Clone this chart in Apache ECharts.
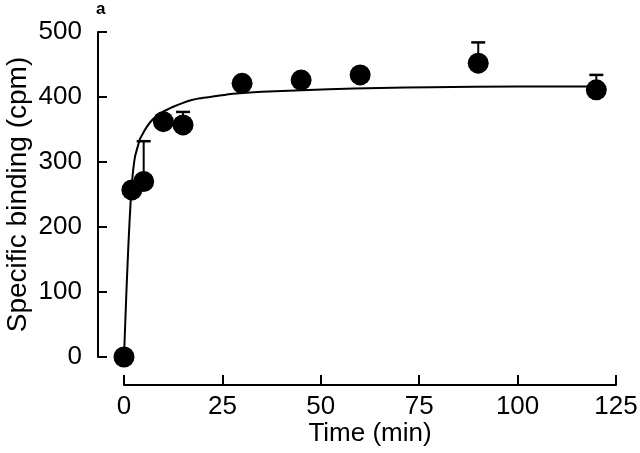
<!DOCTYPE html>
<html>
<head>
<meta charset="utf-8">
<script src="https://cdn.jsdelivr.net/npm/echarts@6/dist/echarts.min.js"></script>
<style>
  html, body { margin: 0; padding: 0; background: #fff; }
  #chart { width: 640px; height: 453px; }
</style>
</head>
<body>
<div id="chart"></div>
<script>
// measured points (time in min, specific binding in cpm)
var timeMin = [0, 2, 5, 10, 15, 30, 45, 60, 90, 120]
var binding = [0, 257, 270, 362, 357, 421, 426, 434, 452, 411]

// upper error bars
var errTime = [5, 15, 90, 120]
var errTop = [332, 377, 484, 434]

// fitted curve
var curveTime = [0, 0.6, 1.1, 1.7, 2.2, 2.8, 3.5, 4.1, 5, 5.8, 6.5, 7.4, 9, 10.8, 12.5, 15, 17, 19.3, 23, 27.7, 35, 52, 65, 78, 100, 120]
var curveVal = [0, 98, 170, 241, 280, 308, 324, 336, 346, 354, 360, 366, 374, 380, 385, 391, 395, 398, 401, 405, 408, 412, 414, 415, 416, 416]

var xTicks = [0, 25, 50, 75, 100, 125]
var yTicks = [0, 100, 200, 300, 400, 500]

var font = 'Liberation Sans, Arial, sans-serif'

var chart = echarts.init(document.getElementById('chart'))

var points = timeMin.map(function (t, i) { return [t, binding[i]] })
var curve = curveTime.map(function (t, i) { return [t, curveVal[i]] })
var errData = errTime.map(function (t, i) {
  var idx = timeMin.indexOf(t)
  return [t, binding[idx], errTop[i]]
})

var option = {
  animation: false,
  backgroundColor: '#fff',
  title: {
    text: 'a',
    left: 91,
    top: -4,
    textStyle: { fontFamily: font, fontSize: 17, fontWeight: 'bold', color: '#000' }
  },
  grid: { left: 124, right: 24, top: 32, bottom: 96, containLabel: false, outerBoundsMode: 'none' },
  xAxis: {
    type: 'value',
    min: xTicks[0],
    max: xTicks[xTicks.length - 1],
    interval: 25,
    offset: 28,
    name: 'Time (min)',
    nameLocation: 'middle',
    nameGap: 36,
    nameMoveOverlap: false,
    nameTextStyle: { fontFamily: font, fontSize: 26, color: '#000' },
    axisLine: { onZero: false, lineStyle: { color: '#000', width: 2 } },
    axisTick: { inside: true, length: 10, lineStyle: { color: '#000', width: 2 } },
    axisLabel: { fontFamily: font, fontSize: 26, color: '#000', margin: 9 },
    splitLine: { show: false }
  },
  yAxis: {
    type: 'value',
    min: yTicks[0],
    max: yTicks[yTicks.length - 1],
    interval: 100,
    offset: 26,
    name: 'Specific binding (cpm)',
    nameLocation: 'middle',
    nameGap: 66,
    nameMoveOverlap: false,
    nameTextStyle: { fontFamily: font, fontSize: 28, color: '#000' },
    axisLine: { show: true, onZero: false, lineStyle: { color: '#000', width: 2 } },
    axisTick: { show: true, inside: true, length: 9, lineStyle: { color: '#000', width: 2 } },
    axisLabel: { fontFamily: font, fontSize: 26, color: '#000', margin: 16 },
    splitLine: { show: false }
  },
  series: [
    {
      name: 'fit',
      type: 'line',
      data: curve,
      showSymbol: false,
      smooth: 0.2,
      lineStyle: { color: '#000', width: 2 },
      z: 1
    },
    {
      name: 'err',
      type: 'custom',
      data: errData,
      renderItem: function (params, api) {
        var base = api.coord([api.value(0), api.value(1)])
        var top = api.coord([api.value(0), api.value(2)])
        var half = 7
        return {
          type: 'group',
          children: [
            { type: 'line', shape: { x1: base[0], y1: base[1], x2: top[0], y2: top[1] },
              style: { stroke: '#000', lineWidth: 2 } },
            { type: 'line', shape: { x1: top[0] - half, y1: top[1], x2: top[0] + half, y2: top[1] },
              style: { stroke: '#000', lineWidth: 2.5 } }
          ]
        }
      },
      z: 2
    },
    {
      name: 'data',
      type: 'scatter',
      data: points,
      symbol: 'circle',
      symbolSize: 21,
      itemStyle: { color: '#000', opacity: 1 },
      z: 3
    }
  ]
}

chart.setOption(option)
</script>
</body>
</html>
